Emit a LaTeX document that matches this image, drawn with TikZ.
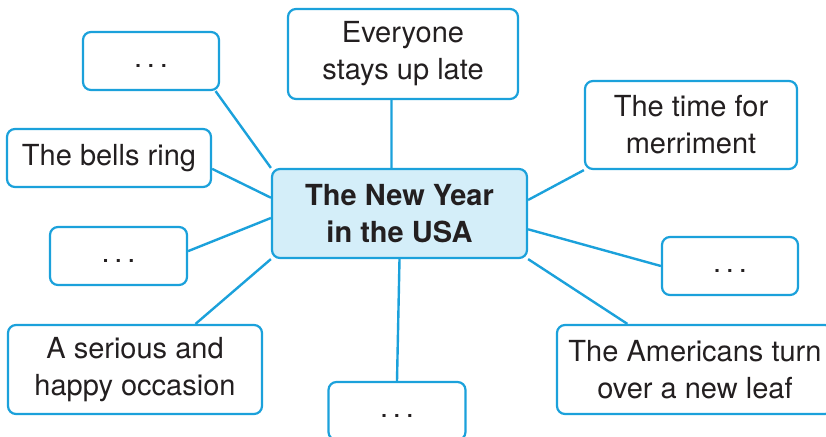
\documentclass[tikz,border=0pt]{standalone}
\usepackage{fontspec}
\setmainfont{TeX Gyre Heros}
\definecolor{mapblue}{HTML}{1BA1DB}
\definecolor{mapfill}{HTML}{D4EEF9}
\definecolor{maptext}{HTML}{231F20}
\newcommand{\gapdots}{\rule[-9pt]{0pt}{30pt}.\,.\,.}

\begin{document}
\begin{tikzpicture}[x=1pt, y=-1pt,
  idea/.style={draw=mapblue, line width=2.2pt, rounded corners=8pt, fill=white, text=maptext,
    align=center, inner sep=0pt, font=\fontsize{29}{37}\selectfont},
  link/.style={draw=mapblue, line width=2.4pt}]
\useasboundingbox (0,0) rectangle (826,436);
\node[idea, fill=mapfill, minimum width=255pt, minimum height=89pt,
  font=\fontsize{29}{37}\selectfont\bfseries] (usa) at (399.5,213.5) {The New Year\\in the USA};
\node[idea, minimum width=136pt, minimum height=58pt] (dotsTL) at (151,61) {\gapdots};
\node[idea, minimum width=204pt, minimum height=58pt] (bells) at (109,158) {The bells ring};
\node[idea, minimum width=230pt, minimum height=90pt] (late) at (403,54) {Everyone\\stays up late};
\node[idea, minimum width=212pt, minimum height=88pt] (merry) at (691,125) {The time for\\merriment};
\node[idea, minimum width=137pt, minimum height=58pt] (dotsL) at (118.5,256) {\gapdots};
\node[idea, minimum width=136pt, minimum height=58pt] (dotsR) at (730,266) {\gapdots};
\node[idea, minimum width=254pt, minimum height=89pt] (serious) at (135,369.5) {A serious and\\happy occasion};
\node[idea, minimum width=137pt, minimum height=58pt] (dotsB) at (397,411) {\gapdots};
\node[idea, minimum width=276pt, minimum height=89pt] (leaf) at (695,369.5) {The Americans turn\\over a new leaf};
\draw[link] (dotsTL.-25) -- (usa.north west);
\draw[link] (bells.-6) -- (usa.173);
\draw[link] (late.256) -- (usa.100);
\draw[link] (merry.south west) -- (usa.6);
\draw[link] (dotsL.4) -- (usa.182);
\draw[link] (dotsR.west) -- (usa.-7);
\draw[link] (serious.37) -- (usa.south west);
\draw[link] (dotsB.north) -- (usa.south);
\draw[link] (leaf.146) -- (usa.south east);
\end{tikzpicture}
\end{document}
